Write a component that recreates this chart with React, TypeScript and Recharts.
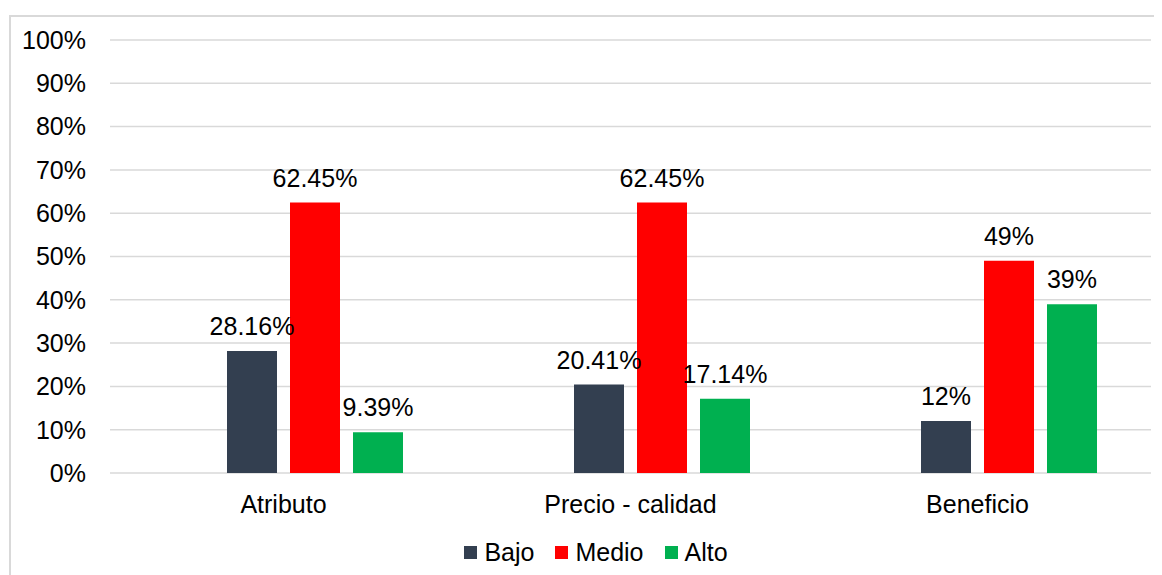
import { BarChart, Bar, XAxis, YAxis, CartesianGrid, Legend, LabelList } from "recharts"

const categories = ["Atributo", "Precio - calidad", "Beneficio"]
// the source chart keeps an empty first series, which pushes the bars right of each label
const vacio = [null, null, null]
const bajo = [28.16, 20.41, 12]
const medio = [62.45, 62.45, 49]
const alto = [9.39, 17.14, 39]
const yTicks = [0, 10, 20, 30, 40, 50, 60, 70, 80, 90, 100]

const series = [
  { key: "bajo", name: "Bajo", color: "#333F50" },
  { key: "medio", name: "Medio", color: "#FF0000" },
  { key: "alto", name: "Alto", color: "#00B050" },
]

const chartData = categories.map((name, i) => ({
  name,
  vacio: vacio[i],
  bajo: bajo[i],
  medio: medio[i],
  alto: alto[i],
}))

const font = "'Liberation Sans', Arial, sans-serif"
const pct = (v: any) => (v == null ? "" : `${v}%`)

function LegendBox() {
  return (
    <div
      style={{
        height: 30,
        display: "flex",
        justifyContent: "center",
        alignItems: "center",
        paddingLeft: 30,
        fontFamily: font,
        fontSize: 25,
        color: "#000",
      }}
    >
      {series.map((s, i) => (
        <div
          key={s.key}
          style={{ display: "flex", alignItems: "center", marginRight: i < series.length - 1 ? 21 : 0 }}
        >
          <span style={{ width: 13, height: 13, background: s.color, marginRight: 7, display: "inline-block" }} />
          <span>{s.name}</span>
        </div>
      ))}
    </div>
  )
}

export default function App() {
  return (
    <div
      style={{
        marginLeft: 1,
        marginTop: 7,
        width: 1170,
        height: 580,
        border: "2px solid #D9D9D9",
        boxSizing: "border-box",
        background: "#fff",
      }}
    >
      <BarChart
        width={1150}
        height={560}
        data={chartData}
        margin={{ top: 23, right: 10, left: 0, bottom: 10 }}
        barSize={50}
        barGap={13}
      >
        <CartesianGrid vertical={false} stroke="#D9D9D9" strokeWidth={1.5} />
        <XAxis
          dataKey="name"
          axisLine={false}
          tickLine={false}
          tickSize={0}
          tickMargin={22}
          height={64}
          tick={{ fill: "#000", fontSize: 25, fontFamily: font }}
        />
        <YAxis
          domain={[0, 100]}
          ticks={yTicks}
          tickFormatter={pct}
          axisLine={false}
          tickLine={false}
          tickSize={0}
          tickMargin={24}
          width={99}
          interval={0}
          tick={{ fill: "#000", fontSize: 25, fontFamily: font }}
        />
        <Legend verticalAlign="bottom" height={30} content={() => <LegendBox />} />
        <Bar dataKey="vacio" fill="none" legendType="none" isAnimationActive={false} />
        {series.map((s) => (
          <Bar key={s.key} dataKey={s.key} name={s.name} fill={s.color} isAnimationActive={false}>
            <LabelList
              dataKey={s.key}
              position="top"
              offset={16}
              formatter={pct}
              style={{ fill: "#000", fontSize: 25, fontFamily: font }}
            />
          </Bar>
        ))}
      </BarChart>
    </div>
  )
}
